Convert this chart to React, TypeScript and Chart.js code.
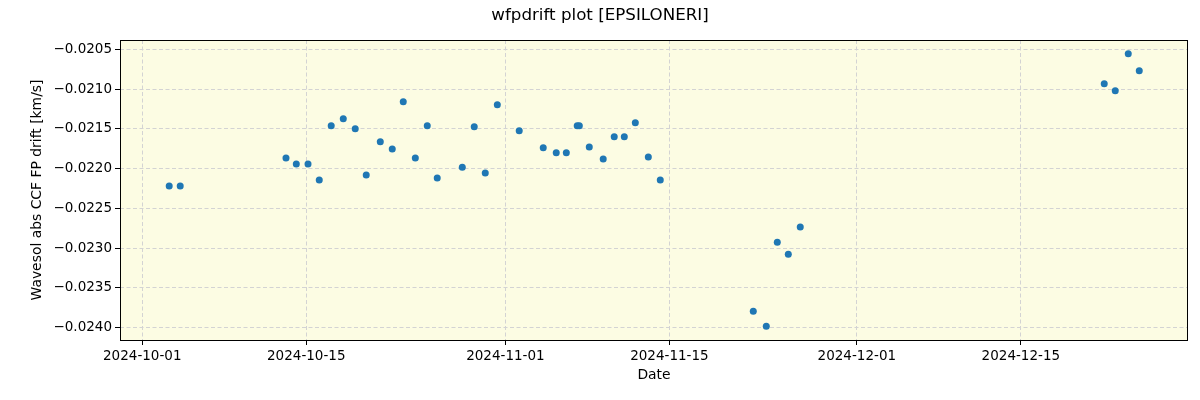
import React, { useEffect, useRef } from "react";
import { Chart, registerables } from "chart.js";

Chart.register(...registerables);

// Days since 2024-10-01 00:00
const dayOffsets = [
  2.3, 3.24, 12.27, 13.15, 14.15, 15.11, 16.13, 17.16, 18.18, 19.12,
  20.32, 21.34, 22.28, 23.31, 24.33, 25.18, 27.32, 28.34, 29.28, 30.31,
  32.18, 34.23, 35.34, 36.2, 37.13, 37.31, 38.16, 39.35, 40.29, 41.15,
  42.09, 43.2, 44.22, 52.16, 53.27, 54.21, 55.15, 56.17, 82.12, 83.06,
  84.17, 85.11,
];
const driftValues = [
  -0.022218, -0.022218, -0.021865, -0.02194, -0.02194, -0.022143, -0.02146, -0.021372, -0.021498, -0.022079,
  -0.021662, -0.021751, -0.021157, -0.021865, -0.02146, -0.022117, -0.021983, -0.021473, -0.022054, -0.021195,
  -0.021523, -0.021738, -0.021801, -0.021801, -0.02146, -0.02146, -0.021726, -0.021877, -0.021599, -0.021599,
  -0.021422, -0.021852, -0.022143, -0.023798, -0.023987, -0.022926, -0.023078, -0.022736, -0.02093, -0.021018,
  -0.020551, -0.020765,
];
const xTickDays = [0, 14, 31, 45, 61, 75];
const xTickLabels = ["2024-10-01", "2024-10-15", "2024-11-01", "2024-11-15", "2024-12-01", "2024-12-15"];
const yTickValues = [-0.0205, -0.021, -0.0215, -0.022, -0.0225, -0.023, -0.0235, -0.024];

const titleText = "wfpdrift plot [EPSILONERI]";
const xTitle = "Date";
const yTitle = "Wavesol abs CCF FP drift [km/s]";

const FONT = "'DejaVu Sans', sans-serif";

export default function App() {
  const ref = useRef<HTMLCanvasElement | null>(null);

  useEffect(() => {
    if (!ref.current) return;
    const deco = {
      id: "deco",
      beforeDraw(chart: any) {
        const { ctx, chartArea: a } = chart;
        ctx.save();
        ctx.fillStyle = "#ffffff";
        ctx.fillRect(0, 0, chart.width, chart.height);
        ctx.fillStyle = "#fcfce3";
        ctx.fillRect(a.left, a.top, a.right - a.left, a.bottom - a.top);
        ctx.restore();
      },
      afterDraw(chart: any) {
        const { ctx, chartArea: a } = chart;
        ctx.save();
        ctx.strokeStyle = "#000";
        ctx.lineWidth = 1;
        ctx.strokeRect(a.left + 0.5, a.top + 0.5, a.right - a.left - 1, a.bottom - a.top);
        ctx.fillStyle = "#000";
        ctx.textAlign = "center";
        ctx.textBaseline = "middle";
        ctx.font = `16.7px ${FONT}`;
        ctx.fillText(titleText, 600, 16);
        ctx.font = `13.9px ${FONT}`;
        ctx.fillText(xTitle, (a.left + a.right) / 2, 375);
        ctx.translate(37, (a.top + a.bottom) / 2);
        ctx.rotate(-Math.PI / 2);
        ctx.fillText(yTitle, 0, 0);
        ctx.restore();
      },
    };

    const chart = new Chart(ref.current, {
      type: "scatter",
      data: {
        datasets: [
          {
            data: dayOffsets.map((d, i) => ({ x: d, y: driftValues[i] })),
            backgroundColor: "#1f77b4",
            borderWidth: 0,
            pointRadius: 3.5,
          },
        ],
      },
      options: {
        responsive: false,
        animation: false,
        layout: { padding: { left: 0, top: 40, right: 12, bottom: 0 } },
        plugins: { legend: { display: false }, tooltip: { enabled: false }, title: { display: false } },
        scales: {
          x: {
            type: "linear",
            min: -1.9,
            max: 89.27,
            afterFit: (s: any) => { s.height = 60; },
            afterBuildTicks: (s: any) => { s.ticks = xTickDays.map((v) => ({ value: v })); },
            ticks: {
              autoSkip: false,
              maxRotation: 0,
              padding: 3,
              color: "#000",
              font: { family: FONT, size: 13.5 },
              callback: (v: any) => {
                const i = xTickDays.indexOf(Number(v));
                return i >= 0 ? xTickLabels[i] : "";
              },
            },
            grid: { color: "#d3d3d3", tickColor: "#000", tickLength: 5, tickBorderDash: [], lineWidth: 1 },
            border: { display: false, dash: [4, 2.5] },
          },
          y: {
            type: "linear",
            min: -0.024159,
            max: -0.020379,
            afterFit: (s: any) => { s.width = 120; },
            afterBuildTicks: (s: any) => { s.ticks = yTickValues.map((v) => ({ value: v })); },
            ticks: {
              autoSkip: false,
              padding: 3,
              color: "#000",
              font: { family: FONT, size: 13.5 },
              callback: (v: any) => "\u2212" + Math.abs(Number(v)).toFixed(4),
            },
            grid: { color: "#d3d3d3", tickColor: "#000", tickLength: 5, tickBorderDash: [], lineWidth: 1 },
            border: { display: false, dash: [4, 2.5] },
          },
        },
      },
      plugins: [deco],
    } as any);
    return () => chart.destroy();
  }, []);

  return (
    <div style={{ position: "fixed", left: 0, top: 0, width: 1200, height: 400 }}>
      <canvas ref={ref} width={1200} height={400} style={{ width: 1200, height: 400 }} />
    </div>
  );
}
